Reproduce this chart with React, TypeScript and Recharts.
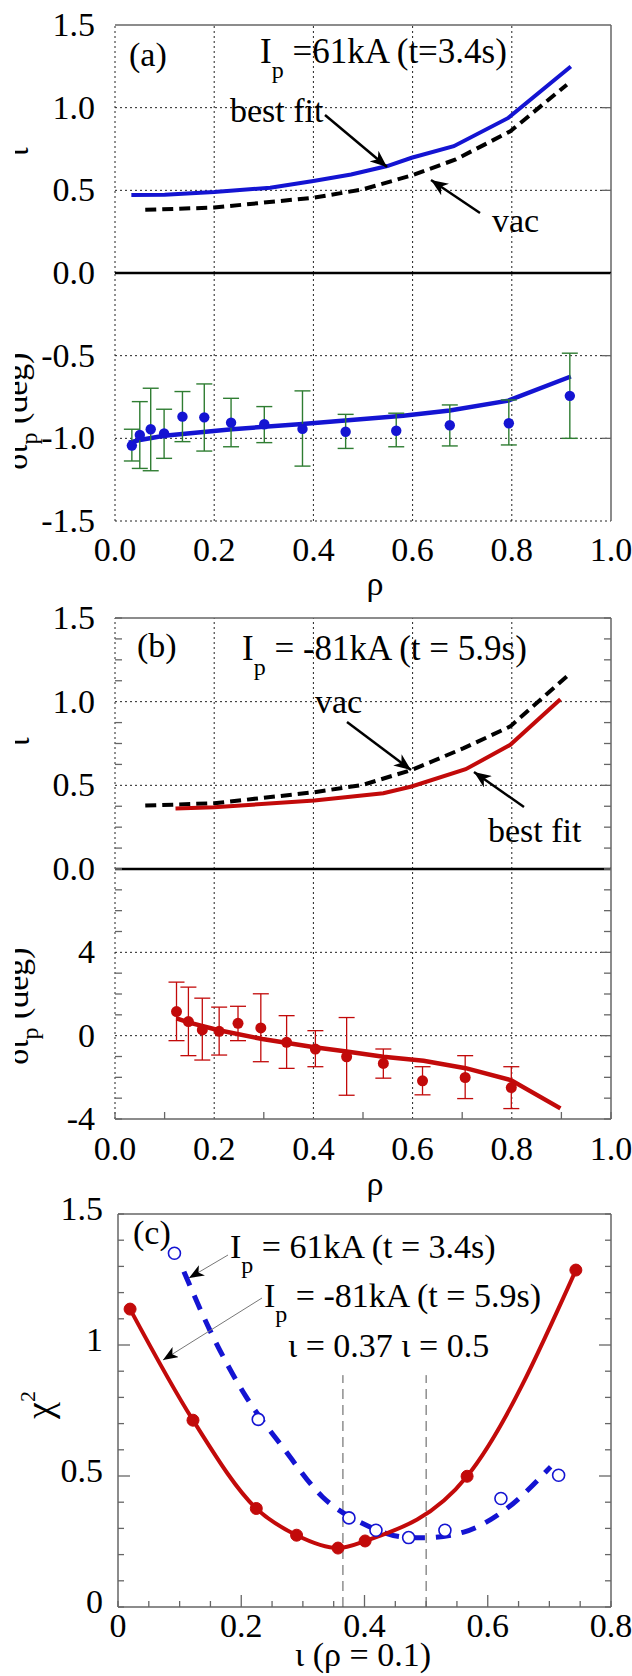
import React from 'react';
import { ComposedChart, Line, Scatter, XAxis, YAxis, ReferenceLine, ErrorBar } from 'recharts';

const FONT = '"Liberation Serif", "Times New Roman", Times, serif';
const BLUE = '#1414d2';
const RED = '#c20a0a';
const GREEN = '#2f7d32';
const FRAME = '#666';

// ---------- Panel (a) ----------
const aFitTopRho = [0.033, 0.1, 0.2, 0.313, 0.4, 0.476, 0.549, 0.598, 0.683, 0.793, 0.919];
const aFitTopVal = [0.472, 0.474, 0.49, 0.516, 0.556, 0.596, 0.647, 0.697, 0.767, 0.938, 1.249];
const aVacRho = [0.061, 0.2, 0.402, 0.5, 0.598, 0.687, 0.797, 0.911];
const aVacVal = [0.382, 0.396, 0.456, 0.506, 0.59, 0.687, 0.857, 1.139];
const aPtRho = [0.034, 0.05, 0.072, 0.099, 0.136, 0.18, 0.234, 0.301, 0.378, 0.465, 0.567, 0.675, 0.794, 0.917];
const aPtVal = [-1.044, -0.98, -0.945, -0.97, -0.869, -0.873, -0.905, -0.915, -0.943, -0.96, -0.954, -0.921, -0.909, -0.743];
const aPtLo = [-1.137, -1.182, -1.196, -1.121, -1.02, -1.077, -1.051, -1.026, -1.168, -1.061, -1.051, -1.046, -1.04, -1.0];
const aPtHi = [-0.945, -0.778, -0.697, -0.824, -0.717, -0.671, -0.758, -0.808, -0.713, -0.855, -0.848, -0.798, -0.768, -0.485];
const aFitBotRho = [0.028, 0.05, 0.099, 0.236, 0.378, 0.476, 0.581, 0.675, 0.793, 0.919];
const aFitBotVal = [-1.026, -1.01, -0.984, -0.945, -0.913, -0.889, -0.863, -0.832, -0.772, -0.626];

// ---------- Panel (b) ----------
const bVacRho = [0.061, 0.2, 0.402, 0.5, 0.598, 0.703, 0.797, 0.911];
const bVacVal = [0.379, 0.393, 0.459, 0.503, 0.592, 0.722, 0.852, 1.151];
const bFitTopRho = [0.122, 0.2, 0.402, 0.541, 0.598, 0.707, 0.797, 0.898];
const bFitTopVal = [0.361, 0.369, 0.409, 0.453, 0.493, 0.596, 0.742, 1.015];
const bPtRho = [0.124, 0.148, 0.176, 0.21, 0.248, 0.294, 0.346, 0.404, 0.467, 0.541, 0.62, 0.706, 0.799];
const bPtVal = [1.157, 0.675, 0.273, 0.209, 0.594, 0.369, -0.321, -0.643, -1.012, -1.333, -2.169, -2.008, -2.49];
const bPtLo = [-0.24, -0.96, -1.17, -0.93, -0.24, -1.25, -1.57, -1.49, -2.86, -2.04, -2.84, -3.02, -3.5];
const bPtHi = [2.57, 2.33, 1.8, 1.37, 1.41, 2.01, 0.96, 0.24, 0.87, -0.64, -1.49, -0.96, -1.49];
const bFitBotRho = [0.124, 0.148, 0.207, 0.297, 0.402, 0.467, 0.541, 0.622, 0.707, 0.799, 0.898];
const bFitBotVal = [0.835, 0.64, 0.27, -0.16, -0.56, -0.755, -1.01, -1.2, -1.56, -2.14, -3.49];

// ---------- Panel (c) ----------
const cRedIota = [0.0196, 0.1217, 0.2244, 0.2898, 0.357, 0.401, 0.5665, 0.743];
const cRedChi = [1.137, 0.713, 0.376, 0.274, 0.225, 0.252, 0.499, 1.286];
const cBlueIota = [0.0916, 0.2276, 0.3748, 0.4186, 0.4716, 0.5305, 0.6214, 0.715];
const cBlueChi = [1.35, 0.716, 0.34, 0.293, 0.265, 0.293, 0.414, 0.503];
const cBlueFitIota = [0.107, 0.149, 0.208, 0.267, 0.332, 0.398, 0.463, 0.496, 0.561, 0.627, 0.702];
const cBlueFitChi = [1.28, 1.057, 0.802, 0.611, 0.42, 0.318, 0.267, 0.264, 0.286, 0.369, 0.535];
const cMarkIota = [0.365, 0.5];

// ---------- tick definitions ----------
const rhoLabelVals = [0, 0.2, 0.4, 0.6, 0.8, 1.0];
const rhoLabelText = ['0.0', '0.2', '0.4', '0.6', '0.8', '1.0'];
const aTopLabelVals = [0, 0.5, 1.0, 1.5];
const aTopLabelText = ['0.0', '0.5', '1.0', '1.5'];
const aBotLabelVals = [-0.5, -1.0, -1.5];
const aBotLabelText = ['-0.5', '-1.0', '-1.5'];
const bBotLabelVals = [4, 0, -4];
const bBotLabelText = ['4', '0', '-4'];
const cYLabelVals = [0, 0.5, 1, 1.5];
const cYLabelText = ['0', '0.5', '1', '1.5'];
const cXLabelVals = [0, 0.2, 0.4, 0.6, 0.8];
const cXLabelText = ['0', '0.2', '0.4', '0.6', '0.8'];

const range = (a: number, b: number, s: number) => {
  const r: number[] = [];
  for (let v = a; v <= b + 1e-9; v += s) r.push(Math.round(v * 10000) / 10000);
  return r;
};

const zip = (xs: number[], ys: number[]) => xs.map((x, i) => ({ x, y: ys[i] }));
const withErr = (xs: number[], ys: number[], lo: number[], hi: number[]) =>
  xs.map((x, i) => ({ x, y: ys[i], e: [ys[i] - lo[i], hi[i] - ys[i]] }));

const near = (v: number, arr: number[]) => arr.findIndex((m) => Math.abs(m - v) < 1e-6);

type TickOpt = {
  side: 'left' | 'right' | 'top' | 'bottom';
  labelVals?: number[];
  labelText?: string[];
  major?: number[];
  majorLen?: number;
  minorLen?: number;
  gap?: number;
  dy?: number;
};

const makeTick = (o: TickOpt) => (p: any) => {
  const v = Number(p.payload.value);
  const x = p.x;
  const y = p.y;
  const isMajor = near(v, o.major || []) >= 0;
  const len = isMajor ? o.majorLen || 0 : o.minorLen || 0;
  let ln: any = null;
  if (len > 0) {
    if (o.side === 'left') ln = <line x1={x} y1={y} x2={x + len} y2={y} stroke={FRAME} strokeWidth={1.3} />;
    if (o.side === 'right') ln = <line x1={x} y1={y} x2={x - len} y2={y} stroke={FRAME} strokeWidth={1.3} />;
    if (o.side === 'top') ln = <line x1={x} y1={y} x2={x} y2={y + len} stroke={FRAME} strokeWidth={1.3} />;
    if (o.side === 'bottom') ln = <line x1={x} y1={y} x2={x} y2={y - len} stroke={FRAME} strokeWidth={1.3} />;
  }
  let tx: any = null;
  const li = o.labelVals ? near(v, o.labelVals) : -1;
  if (li >= 0 && o.labelText) {
    if (o.side === 'left')
      tx = (
        <text x={x - (o.gap || 20)} y={y + (o.dy || 11)} textAnchor="end" fontSize={34} fontFamily={FONT} fill="#000">
          {o.labelText[li]}
        </text>
      );
    if (o.side === 'bottom')
      tx = (
        <text x={x} y={y + (o.gap || 40)} textAnchor="middle" fontSize={34} fontFamily={FONT} fill="#000">
          {o.labelText[li]}
        </text>
      );
  }
  return (
    <g>
      {ln}
      {tx}
    </g>
  );
};

const axisBase = {
  type: 'number' as const,
  allowDataOverflow: true,
  interval: 0 as const,
  tickSize: 0,
  tickMargin: 0,
  tickLine: false,
  axisLine: false,
};

const dotted = (key: string, props: any) => (
  <ReferenceLine key={key} {...props} stroke="#222" strokeDasharray="2 3" strokeWidth={1} />
);
const solid = (key: string, props: any, color = FRAME, w = 1.5) => (
  <ReferenceLine key={key} {...props} stroke={color} strokeWidth={w} />
);

const gridX = [0, 0.2, 0.4, 0.6, 0.8];

const dotShape = (color: string, r: number) => (p: any) => <circle cx={p.cx} cy={p.cy} r={r} fill={color} />;
const ringShape = (color: string, r: number) => (p: any) => (
  <circle cx={p.cx} cy={p.cy} r={r} fill="#fff" stroke={color} strokeWidth={1.6} />
);

const Abs = ({ top, children }: { top: number; children: any }) => (
  <div style={{ position: 'absolute', left: 0, top }}>{children}</div>
);

// ---------- charts ----------
const ChartA1 = () => (
  <ComposedChart width={632} height={300} margin={{ top: 25, right: 0, bottom: 27, left: 0 }}>
    <XAxis xAxisId={0} dataKey="x" {...axisBase} domain={[0, 1]} hide />
    <YAxis
      yAxisId={0}
      dataKey="y"
      {...axisBase}
      width={115}
      domain={[0, 1.5]}
      ticks={aTopLabelVals}
      tick={makeTick({ side: 'left', labelVals: aTopLabelVals, labelText: aTopLabelText, gap: 20, dy: 11 })}
    />
    <YAxis
      yAxisId="r"
      orientation="right"
      {...axisBase}
      width={21}
      domain={[0, 1.5]}
      ticks={[0.5, 1.0]}
      tick={makeTick({ side: 'right', major: [0.5, 1.0], majorLen: 9 })}
    />
    {gridX.map((v) => dotted('gx' + v, { x: v }))}
    {[0.5, 1.0].map((v) => dotted('gy' + v, { y: v }))}
    {solid('top', { y: 1.5 })}
    {solid('right', { x: 1 })}
    {solid('zero', { y: 0 }, '#000', 2.6)}
    <Line data={zip(aVacRho, aVacVal)} dataKey="y" stroke="#000" strokeWidth={4} strokeDasharray="11 6" dot={false} isAnimationActive={false} />
    <Line data={zip(aFitTopRho, aFitTopVal)} dataKey="y" stroke={BLUE} strokeWidth={4} dot={false} isAnimationActive={false} />
  </ComposedChart>
);

const ChartA2 = () => (
  <ComposedChart width={632} height={347} margin={{ top: 20, right: 0, bottom: 19, left: 0 }}>
    <XAxis
      xAxisId={0}
      dataKey="x"
      {...axisBase}
      domain={[0, 1]}
      height={60}
      ticks={rhoLabelVals}
      tick={makeTick({ side: 'bottom', labelVals: rhoLabelVals, labelText: rhoLabelText, gap: 40 })}
    />
    <YAxis
      yAxisId={0}
      dataKey="y"
      {...axisBase}
      width={115}
      domain={[-1.5, 0]}
      ticks={aBotLabelVals}
      tick={makeTick({ side: 'left', labelVals: aBotLabelVals, labelText: aBotLabelText, gap: 20, dy: 11 })}
    />
    <YAxis
      yAxisId="r"
      orientation="right"
      {...axisBase}
      width={21}
      domain={[-1.5, 0]}
      ticks={[-0.5, -1.0]}
      tick={makeTick({ side: 'right', major: [-0.5, -1.0], majorLen: 9 })}
    />
    {gridX.map((v) => dotted('gx' + v, { x: v }))}
    {[-0.5, -1.0, -1.5].map((v) => dotted('gy' + v, { y: v }))}
    {solid('right', { x: 1 })}
    <Line data={zip(aFitBotRho, aFitBotVal)} dataKey="y" stroke={BLUE} strokeWidth={4.5} dot={false} isAnimationActive={false} />
    <Scatter data={withErr(aPtRho, aPtVal, aPtLo, aPtHi)} dataKey="y" shape={dotShape(BLUE, 5.2)} isAnimationActive={false}>
      <ErrorBar dataKey="e" direction="y" width={8} stroke={GREEN} strokeWidth={1.4} />
    </Scatter>
  </ComposedChart>
);

const bTopTicks = range(0, 1.5, 0.125);
const bBotTicks = range(-4, 8, 1);
const rhoMinor = range(0, 1, 0.1);

const ChartB1 = () => (
  <ComposedChart width={632} height={300} margin={{ top: 27, right: 0, bottom: 21, left: 0 }}>
    <XAxis xAxisId={0} dataKey="x" {...axisBase} domain={[0, 1]} hide />
    <XAxis
      xAxisId="t"
      orientation="top"
      {...axisBase}
      domain={[0, 1]}
      height={1}
      ticks={rhoMinor}
      tick={makeTick({ side: 'top', major: [0.2, 0.4, 0.6, 0.8], majorLen: 0, minorLen: 7 })}
    />
    <YAxis
      yAxisId={0}
      dataKey="y"
      {...axisBase}
      width={115}
      domain={[0, 1.5]}
      ticks={bTopTicks}
      tick={makeTick({ side: 'left', labelVals: aTopLabelVals, labelText: aTopLabelText, gap: 20, dy: 11, major: [0.5, 1.0], majorLen: 0, minorLen: 7 })}
    />
    <YAxis
      yAxisId="r"
      orientation="right"
      {...axisBase}
      width={21}
      domain={[0, 1.5]}
      ticks={bTopTicks}
      tick={makeTick({ side: 'right', major: [0.5, 1.0], majorLen: 10, minorLen: 7 })}
    />
    {gridX.map((v) => dotted('gx' + v, { x: v }))}
    {[0.5, 1.0].map((v) => dotted('gy' + v, { y: v }))}
    {solid('top', { y: 1.5 })}
    {solid('right', { x: 1 })}
    {solid('zero', { y: 0 }, '#000', 2.6)}
    <Line data={zip(bVacRho, bVacVal)} dataKey="y" stroke="#000" strokeWidth={4} strokeDasharray="11 6" dot={false} isAnimationActive={false} />
    <Line data={zip(bFitTopRho, bFitTopVal)} dataKey="y" stroke={RED} strokeWidth={4} dot={false} isAnimationActive={false} />
  </ComposedChart>
);

const ChartB2 = () => (
  <ComposedChart width={632} height={350} margin={{ top: 19, right: 0, bottom: 21, left: 0 }}>
    <XAxis
      xAxisId={0}
      dataKey="x"
      {...axisBase}
      domain={[0, 1]}
      height={60}
      ticks={rhoMinor}
      tick={makeTick({ side: 'bottom', labelVals: rhoLabelVals, labelText: rhoLabelText, gap: 41, major: [0.2, 0.4, 0.6, 0.8], majorLen: 0, minorLen: 7 })}
    />
    <YAxis
      yAxisId={0}
      dataKey="y"
      {...axisBase}
      width={115}
      domain={[-4, 8]}
      ticks={bBotTicks}
      tick={makeTick({ side: 'left', labelVals: bBotLabelVals, labelText: bBotLabelText, gap: 20, dy: 11, major: [4, 0], majorLen: 0, minorLen: 7 })}
    />
    <YAxis
      yAxisId="r"
      orientation="right"
      {...axisBase}
      width={21}
      domain={[-4, 8]}
      ticks={bBotTicks}
      tick={makeTick({ side: 'right', major: [4, 0], majorLen: 10, minorLen: 7 })}
    />
    {gridX.map((v) => dotted('gx' + v, { x: v }))}
    {[4, 0].map((v) => dotted('gy' + v, { y: v }))}
    {solid('bottom', { y: -4 })}
    {solid('right', { x: 1 })}
    <Line data={zip(bFitBotRho, bFitBotVal)} dataKey="y" stroke={RED} strokeWidth={4.5} dot={false} isAnimationActive={false} />
    <Scatter data={withErr(bPtRho, bPtVal, bPtLo, bPtHi)} dataKey="y" shape={dotShape(RED, 5.5)} isAnimationActive={false}>
      <ErrorBar dataKey="e" direction="y" width={8} stroke={RED} strokeWidth={1.3} />
    </Scatter>
  </ComposedChart>
);

const cYTicks = range(0, 1.5, 0.1);
const cXTicks = range(0, 0.8, 0.05);
const cYMajor = [0.5, 1.0];
const cXMajor = [0.2, 0.4, 0.6];

const ChartC = () => (
  <ComposedChart width={632} height={486} margin={{ top: 23, right: 0, bottom: 19, left: 0 }}>
    <XAxis
      xAxisId={0}
      dataKey="x"
      {...axisBase}
      domain={[0, 0.8]}
      height={50}
      ticks={cXTicks}
      tick={makeTick({ side: 'bottom', labelVals: cXLabelVals, labelText: cXLabelText, gap: 30, major: cXMajor, majorLen: 12, minorLen: 6 })}
    />
    <XAxis
      xAxisId="t"
      orientation="top"
      {...axisBase}
      domain={[0, 0.8]}
      height={1}
      ticks={cXTicks}
      tick={makeTick({ side: 'top', major: cXMajor, majorLen: 12, minorLen: 6 })}
    />
    <YAxis
      yAxisId={0}
      dataKey="y"
      {...axisBase}
      width={118}
      domain={[0, 1.5]}
      ticks={cYTicks}
      tick={makeTick({ side: 'left', labelVals: cYLabelVals, labelText: cYLabelText, gap: 15, dy: 6, major: cYMajor, majorLen: 12, minorLen: 6 })}
    />
    <YAxis
      yAxisId="r"
      orientation="right"
      {...axisBase}
      width={21}
      domain={[0, 1.5]}
      ticks={cYTicks}
      tick={makeTick({ side: 'right', major: cYMajor, majorLen: 12, minorLen: 6 })}
    />
    {solid('top', { y: 1.5 })}
    {solid('bot', { y: 0 })}
    {solid('left', { x: 0 })}
    {solid('right', { x: 0.8 })}
    {cMarkIota.map((v) => (
      <ReferenceLine
        key={'m' + v}
        segment={[
          { x: v, y: 0 },
          { x: v, y: 0.885 },
        ]}
        stroke="#555"
        strokeWidth={1}
        strokeDasharray="10 6"
      />
    ))}
    <Line
      data={zip(cBlueFitIota, cBlueFitChi)}
      dataKey="y"
      type="monotone"
      stroke={BLUE}
      strokeWidth={5}
      strokeDasharray="15 11"
      dot={false}
      isAnimationActive={false}
    />
    <Scatter data={zip(cBlueIota, cBlueChi)} dataKey="y" shape={ringShape(BLUE, 6)} isAnimationActive={false} />
    <Line
      data={zip(cRedIota, cRedChi)}
      dataKey="y"
      type="monotone"
      stroke={RED}
      strokeWidth={4}
      dot={{ r: 6, fill: RED, stroke: RED, strokeWidth: 1 }}
      isAnimationActive={false}
    />
  </ComposedChart>
);

const Overlay = () => (
  <svg width={632} height={1676} style={{ position: 'absolute', left: 0, top: 0 }} fontFamily={FONT}>
    <defs>
      <marker id="ah" markerWidth="18" markerHeight="14" refX="17" refY="7" orient="auto" markerUnits="userSpaceOnUse">
        <path d="M0,0 L17,7 L0,14 L5,7 Z" fill="#000" />
      </marker>
      <marker id="ah2" markerWidth="16" markerHeight="12" refX="15" refY="6" orient="auto" markerUnits="userSpaceOnUse">
        <path d="M0,0 L15,6 L0,12 L4,6 Z" fill="#000" />
      </marker>
      <clipPath id="clipL">
        <rect x={15} y={0} width={617} height={1676} />
      </clipPath>
    </defs>

    {/* panel (a) */}
    <text x={129} y={66} fontSize={34}>(a)</text>
    <text x={260} y={63} fontSize={35}>
      I<tspan fontSize={24} dy={15}>p</tspan>
      <tspan dy={-15}> =61kA (t=3.4s)</tspan>
    </text>
    <text x={230} y={122} fontSize={34}>best fit</text>
    <line x1={325} y1={115} x2={387} y2={167} stroke="#000" strokeWidth={2.5} markerEnd="url(#ah)" />
    <text x={492} y={232} fontSize={34}>vac</text>
    <line x1={480} y1={213} x2={431} y2={180} stroke="#000" strokeWidth={2.5} markerEnd="url(#ah)" />
    <text x={375} y={595} textAnchor="middle" fontSize={34}>ρ</text>

    {/* panel (b) */}
    <text x={137} y={657} fontSize={34}>(b)</text>
    <text x={242} y={660} fontSize={35}>
      I<tspan fontSize={24} dy={15}>p</tspan>
      <tspan dy={-15}> = -81kA (t = 5.9s)</tspan>
    </text>
    <text x={315} y={713} fontSize={34}>vac</text>
    <line x1={347} y1={722} x2={411} y2={770} stroke="#000" strokeWidth={2.5} markerEnd="url(#ah)" />
    <text x={488} y={842} fontSize={34}>best fit</text>
    <line x1={524} y1={807} x2={474} y2={772} stroke="#000" strokeWidth={2.5} markerEnd="url(#ah)" />
    <text x={375} y={1195} textAnchor="middle" fontSize={34}>ρ</text>

    {/* rotated y labels (clipped on the left as in the figure) */}
    <g clipPath="url(#clipL)" fontSize={34}>
      <text transform="rotate(-90 28 152)" x={28} y={152} textAnchor="middle">ι</text>
      <text transform="rotate(-90 27 411)" x={27} y={411} textAnchor="middle">
        δι<tspan fontSize={24} dy={10}>p</tspan>
        <tspan dy={-10}> (deg)</tspan>
      </text>
      <text transform="rotate(-90 29 742)" x={29} y={742} textAnchor="middle">ι</text>
      <text transform="rotate(-90 28 1006)" x={28} y={1006} textAnchor="middle">
        δι<tspan fontSize={24} dy={10}>p</tspan>
        <tspan dy={-10}> (deg)</tspan>
      </text>
    </g>

    {/* panel (c) */}
    <text x={133} y={1244} fontSize={34}>(c)</text>
    <text x={230} y={1258} fontSize={34}>
      I<tspan fontSize={24} dy={15}>p</tspan>
      <tspan dy={-15}> = 61kA (t = 3.4s)</tspan>
    </text>
    <text x={264} y={1307} fontSize={34}>
      I<tspan fontSize={24} dy={15}>p</tspan>
      <tspan dy={-15}> = -81kA (t = 5.9s)</tspan>
    </text>
    <text x={288} y={1357} fontSize={34}>ι = 0.37 ι = 0.5</text>
    <line x1={228} y1={1255} x2={189} y2={1278} stroke="#777" strokeWidth={1} markerEnd="url(#ah2)" />
    <line x1={262} y1={1298} x2={163} y2={1360} stroke="#777" strokeWidth={1} markerEnd="url(#ah2)" />
    <text transform="rotate(-90 52 1405)" x={52} y={1405} textAnchor="middle" fontSize={38}>
      χ<tspan fontSize={22} dy={-17}>2</tspan>
    </text>
    <text x={363} y={1666} textAnchor="middle" fontSize={34}>ι (ρ = 0.1)</text>
  </svg>
);

export default function App() {
  return (
    <div
      style={{
        position: 'absolute',
        left: 0,
        top: 0,
        width: 632,
        height: 1676,
        overflow: 'hidden',
        background: '#fff',
        fontFamily: FONT,
      }}
    >
      <Abs top={0}>
        <ChartA1 />
      </Abs>
      <Abs top={253}>
        <ChartA2 />
      </Abs>
      <Abs top={590}>
        <ChartB1 />
      </Abs>
      <Abs top={850}>
        <ChartB2 />
      </Abs>
      <Abs top={1190}>
        <ChartC />
      </Abs>
      <Overlay />
    </div>
  );
}
